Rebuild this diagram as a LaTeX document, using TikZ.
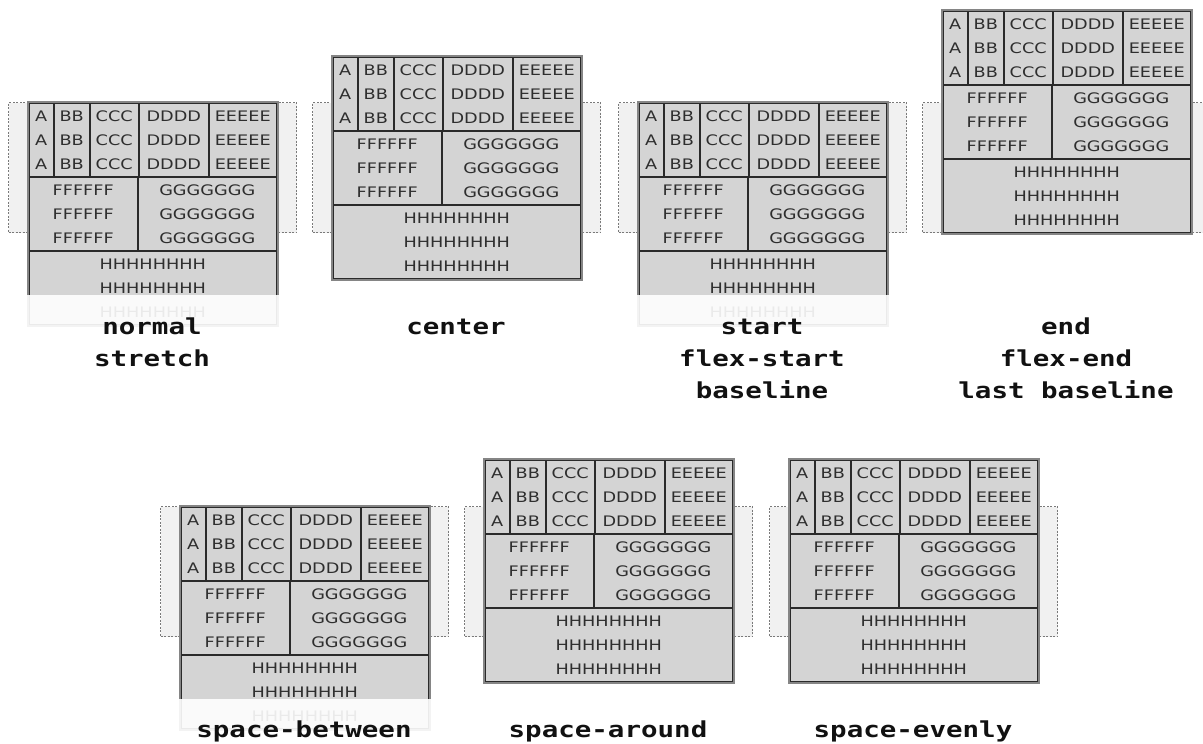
\documentclass[tikz,border=0pt]{standalone}
\usepackage{fontspec}
\usepackage{tikz}
\usepackage{xcolor}
\usetikzlibrary{positioning,calc}
\newfontfamily\cellfont[FakeStretch=1.22]{DejaVu Sans}
\newfontfamily\labelfont[FakeStretch=1.25]{DejaVu Sans Mono}
\definecolor{cellfill}{HTML}{D4D4D4}
\definecolor{cellline}{HTML}{2A2A2A}
\definecolor{celltext}{HTML}{2E2E2E}
\definecolor{gridedge}{HTML}{858585}
\definecolor{boxfill}{HTML}{F1F1F1}
\definecolor{boxline}{HTML}{7A7A7A}
\definecolor{labelink}{HTML}{111111}
\tikzset{
  container/.style={draw=boxline,fill=boxfill,line width=1.4pt,
                    dash pattern=on 2pt off 1.5pt,anchor=north west,
                    minimum width=288,minimum height=130,inner sep=0pt},
  cell/.style={draw=cellline,fill=cellfill,line width=1.5pt,anchor=north west,
               minimum height=74,inner sep=0pt,align=center,text=celltext,
               font=\cellfont\fontsize{14.5}{24}\selectfont},
  gridrim/.style={draw=gridedge,line width=2pt},
  fadeover/.style={fill=white,fill opacity=0.9},
  caption/.style={anchor=base,align=center,inner sep=0pt,text=labelink,
                  font=\labelfont\bfseries\fontsize{22}{32}\selectfont}
}
% one container with its 3x3 grid tracks; #4 = grid top below container top
\newcommand{\alignpanel}[4]{%
  \begin{scope}[shift={(#2,#3)}]
    \node[container] (#1box) at (0,0) {};
    \node[cell,minimum width=25] (#1a) at (20,#4) {A\\A\\A};
    \node[cell,minimum width=36] (#1b) at (45,#4) {BB\\BB\\BB};
    \node[cell,minimum width=49] (#1c) at (81,#4) {CCC\\CCC\\CCC};
    \node[cell,minimum width=70] (#1d) at (130,#4) {DDDD\\DDDD\\DDDD};
    \node[cell,minimum width=68] (#1e) at (200,#4) {EEEEE\\EEEEE\\EEEEE};
    \node[cell,minimum width=109] (#1f) at (20,#4+74) {FFFFFF\\FFFFFF\\FFFFFF};
    \node[cell,minimum width=139] (#1g) at (129,#4+74) {GGGGGGG\\GGGGGGG\\GGGGGGG};
    \node[cell,minimum width=248] (#1h) at (20,#4+148) {HHHHHHHH\\HHHHHHHH\\HHHHHHHH};
    \draw[gridrim] (#1a.north west) rectangle (#1h.south east);
  \end{scope}}

\begin{document}
\begin{tikzpicture}[x=1pt,y=-1pt]
  \useasboundingbox (0,0) rectangle (1203,744);

  \alignpanel{nrm}{8}{102}{0}
  \alignpanel{ctr}{312}{102}{-46}
  \alignpanel{sta}{618}{102}{0}
  \alignpanel{enn}{922}{102}{-92}
  \alignpanel{spb}{160}{506}{0}
  \alignpanel{spa}{464}{506}{-47}
  \alignpanel{spe}{769}{506}{-47}

  % overflowing rows fade out
  \fill[fadeover] ([xshift=-2pt,yshift=-45pt]nrmh.north west) rectangle ([xshift=2pt,yshift=-2pt]nrmh.south east);
  \fill[fadeover] ([xshift=-2pt,yshift=-45pt]stah.north west) rectangle ([xshift=2pt,yshift=-2pt]stah.south east);
  \fill[fadeover] ([xshift=-2pt,yshift=-45pt]spbh.north west) rectangle ([xshift=2pt,yshift=-2pt]spbh.south east);

  % base anchor sits on the last line
  \node[caption] (nrmlab) at (152,366) {normal\\stretch};
  \node[caption] (ctrlab) at (456,334) {center};
  \node[caption] (stalab) at (762,398) {start\\flex-start\\baseline};
  \node[caption] (ennlab) at (1066,398) {end\\flex-end\\last baseline};
  \node[caption] (spblab) at (304,737) {space-between};
  \node[caption] (spalab) at (608,737) {space-around};
  \node[caption] (spelab) at (913,737) {space-evenly};
\end{tikzpicture}
\end{document}
